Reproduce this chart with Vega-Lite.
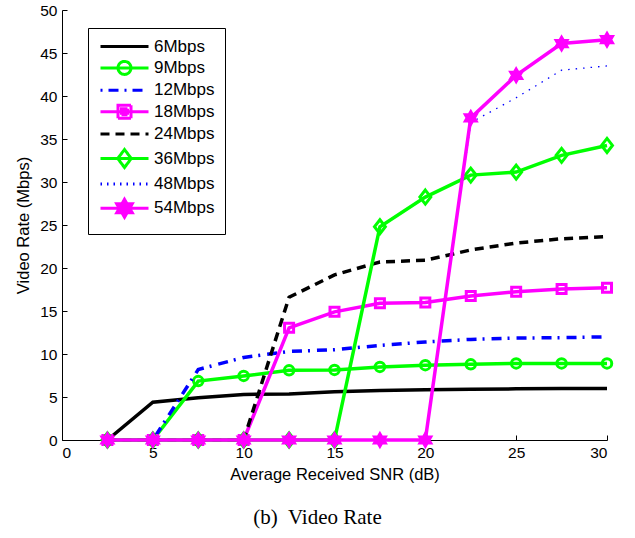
{
  "$schema": "https://vega.github.io/schema/vega-lite/v6.json",
  "width": 545,
  "height": 430,
  "autosize": {"type": "none"},
  "padding": {"left": 62, "top": 10, "right": 28, "bottom": 98},
  "background": "white",
  "title": {"text": "(b)\u00a0 Video Rate", "orient": "bottom", "anchor": "middle", "font": "Liberation Serif", "fontSize": 21, "fontWeight": "normal", "color": "black", "dx": -17, "offset": 24},
  "config": {
    "view": {"stroke": null},
    "axis": {"domainColor": "black", "tickColor": "black", "labelColor": "black", "titleColor": "black", "labelFont": "Liberation Sans", "titleFont": "Liberation Sans", "labelFontSize": 15.5, "titleFontSize": 16.5, "titleFontWeight": "normal", "tickSize": -5, "grid": false, "domainWidth": 1, "tickWidth": 1, "labelPadding": 10},
    "legend": {"orient": "none", "legendX": 26, "legendY": 18, "padding": 10, "strokeColor": "black", "fillColor": "white", "strokeWidth": 1, "labelFont": "Liberation Sans", "labelFontSize": 17, "labelColor": "black", "symbolSize": 100, "labelOffset": 39, "rowPadding": 0.4, "symbolStrokeWidth": 3}
  },
  "datasets": {
    "main": [
      {"snr": 2.5, "rate": 0, "series": "6Mbps"}, {"snr": 5, "rate": 4.4, "series": "6Mbps"}, {"snr": 7.5, "rate": 4.9, "series": "6Mbps"}, {"snr": 10, "rate": 5.3, "series": "6Mbps"}, {"snr": 12.5, "rate": 5.35, "series": "6Mbps"}, {"snr": 15, "rate": 5.6, "series": "6Mbps"}, {"snr": 17.5, "rate": 5.75, "series": "6Mbps"}, {"snr": 20, "rate": 5.85, "series": "6Mbps"}, {"snr": 22.5, "rate": 5.9, "series": "6Mbps"}, {"snr": 25, "rate": 5.95, "series": "6Mbps"}, {"snr": 27.5, "rate": 6.0, "series": "6Mbps"}, {"snr": 30, "rate": 6.0, "series": "6Mbps"},
      {"snr": 2.5, "rate": 0, "series": "9Mbps"}, {"snr": 5, "rate": 0, "series": "9Mbps"}, {"snr": 7.5, "rate": 6.85, "series": "9Mbps"}, {"snr": 10, "rate": 7.45, "series": "9Mbps"}, {"snr": 12.5, "rate": 8.1, "series": "9Mbps"}, {"snr": 15, "rate": 8.15, "series": "9Mbps"}, {"snr": 17.5, "rate": 8.5, "series": "9Mbps"}, {"snr": 20, "rate": 8.7, "series": "9Mbps"}, {"snr": 22.5, "rate": 8.8, "series": "9Mbps"}, {"snr": 25, "rate": 8.9, "series": "9Mbps"}, {"snr": 27.5, "rate": 8.9, "series": "9Mbps"}, {"snr": 30, "rate": 8.9, "series": "9Mbps"},
      {"snr": 2.5, "rate": 0, "series": "12Mbps"}, {"snr": 5, "rate": 0, "series": "12Mbps"}, {"snr": 7.5, "rate": 8.2, "series": "12Mbps"}, {"snr": 10, "rate": 9.6, "series": "12Mbps"}, {"snr": 12.5, "rate": 10.3, "series": "12Mbps"}, {"snr": 15, "rate": 10.5, "series": "12Mbps"}, {"snr": 17.5, "rate": 11.0, "series": "12Mbps"}, {"snr": 20, "rate": 11.4, "series": "12Mbps"}, {"snr": 22.5, "rate": 11.7, "series": "12Mbps"}, {"snr": 25, "rate": 11.85, "series": "12Mbps"}, {"snr": 27.5, "rate": 11.9, "series": "12Mbps"}, {"snr": 30, "rate": 12.0, "series": "12Mbps"},
      {"snr": 2.5, "rate": 0, "series": "18Mbps"}, {"snr": 5, "rate": 0, "series": "18Mbps"}, {"snr": 7.5, "rate": 0, "series": "18Mbps"}, {"snr": 10, "rate": 0, "series": "18Mbps"}, {"snr": 12.5, "rate": 13.05, "series": "18Mbps"}, {"snr": 15, "rate": 14.9, "series": "18Mbps"}, {"snr": 17.5, "rate": 15.9, "series": "18Mbps"}, {"snr": 20, "rate": 16.0, "series": "18Mbps"}, {"snr": 22.5, "rate": 16.75, "series": "18Mbps"}, {"snr": 25, "rate": 17.25, "series": "18Mbps"}, {"snr": 27.5, "rate": 17.55, "series": "18Mbps"}, {"snr": 30, "rate": 17.7, "series": "18Mbps"},
      {"snr": 2.5, "rate": 0, "series": "24Mbps"}, {"snr": 5, "rate": 0, "series": "24Mbps"}, {"snr": 7.5, "rate": 0, "series": "24Mbps"}, {"snr": 10, "rate": 0, "series": "24Mbps"}, {"snr": 12.5, "rate": 16.6, "series": "24Mbps"}, {"snr": 15, "rate": 19.2, "series": "24Mbps"}, {"snr": 17.5, "rate": 20.7, "series": "24Mbps"}, {"snr": 20, "rate": 20.9, "series": "24Mbps"}, {"snr": 22.5, "rate": 22.1, "series": "24Mbps"}, {"snr": 25, "rate": 22.9, "series": "24Mbps"}, {"snr": 27.5, "rate": 23.4, "series": "24Mbps"}, {"snr": 30, "rate": 23.65, "series": "24Mbps"},
      {"snr": 2.5, "rate": 0, "series": "36Mbps"}, {"snr": 5, "rate": 0, "series": "36Mbps"}, {"snr": 7.5, "rate": 0, "series": "36Mbps"}, {"snr": 10, "rate": 0, "series": "36Mbps"}, {"snr": 12.5, "rate": 0, "series": "36Mbps"}, {"snr": 15, "rate": 0, "series": "36Mbps"}, {"snr": 17.5, "rate": 24.8, "series": "36Mbps"}, {"snr": 20, "rate": 28.25, "series": "36Mbps"}, {"snr": 22.5, "rate": 30.8, "series": "36Mbps"}, {"snr": 25, "rate": 31.15, "series": "36Mbps"}, {"snr": 27.5, "rate": 33.1, "series": "36Mbps"}, {"snr": 30, "rate": 34.25, "series": "36Mbps"},
      {"snr": 2.5, "rate": 0, "series": "48Mbps"}, {"snr": 5, "rate": 0, "series": "48Mbps"}, {"snr": 7.5, "rate": 0, "series": "48Mbps"}, {"snr": 10, "rate": 0, "series": "48Mbps"}, {"snr": 12.5, "rate": 0, "series": "48Mbps"}, {"snr": 15, "rate": 0, "series": "48Mbps"}, {"snr": 17.5, "rate": 0, "series": "48Mbps"}, {"snr": 20, "rate": 0, "series": "48Mbps"}, {"snr": 22.5, "rate": 36.9, "series": "48Mbps"}, {"snr": 25, "rate": 39.8, "series": "48Mbps"}, {"snr": 27.5, "rate": 43.0, "series": "48Mbps"}, {"snr": 30, "rate": 43.5, "series": "48Mbps"},
      {"snr": 2.5, "rate": 0, "series": "54Mbps"}, {"snr": 5, "rate": 0, "series": "54Mbps"}, {"snr": 7.5, "rate": 0, "series": "54Mbps"}, {"snr": 10, "rate": 0, "series": "54Mbps"}, {"snr": 12.5, "rate": 0, "series": "54Mbps"}, {"snr": 15, "rate": 0, "series": "54Mbps"}, {"snr": 17.5, "rate": 0, "series": "54Mbps"}, {"snr": 20, "rate": 0, "series": "54Mbps"}, {"snr": 22.5, "rate": 37.45, "series": "54Mbps"}, {"snr": 25, "rate": 42.4, "series": "54Mbps"}, {"snr": 27.5, "rate": 46.1, "series": "54Mbps"}, {"snr": 30, "rate": 46.55, "series": "54Mbps"}
    ],
    "legendRows": [
      {"series": "6Mbps"}, {"series": "9Mbps"}, {"series": "12Mbps"}, {"series": "18Mbps"}, {"series": "24Mbps"}, {"series": "36Mbps"}, {"series": "48Mbps"}, {"series": "54Mbps"}
    ]
  },
  "data": {"name": "main"},
  "encoding": {
    "x": {"field": "snr", "type": "quantitative", "scale": {"domain": [0, 30], "nice": false}, "axis": {"values": [0, 5, 10, 15, 20, 25, 30], "title": "Average Received SNR (dB)", "titlePadding": 6}},
    "y": {"field": "rate", "type": "quantitative", "scale": {"domain": [0, 50], "nice": false}, "axis": {"values": [0, 5, 10, 15, 20, 25, 30, 35, 40, 45, 50], "title": "Video Rate (Mbps)", "titlePadding": 8}}
  },
  "layer": [
    {
      "transform": [{"filter": {"field": "series", "equal": "6Mbps"}}],
      "mark": {"type": "line", "strokeWidth": 3.5, "color": "#000000"}
    },
    {
      "transform": [{"filter": {"field": "series", "equal": "9Mbps"}}],
      "mark": {"type": "line", "strokeWidth": 3.5, "color": "#00ff00"}
    },
    {
      "transform": [{"filter": {"field": "series", "equal": "9Mbps"}}],
      "mark": {"type": "point", "shape": "circle", "size": 90, "filled": false, "strokeWidth": 3, "color": "#00ff00", "opacity": 1}
    },
    {
      "transform": [{"filter": {"field": "series", "equal": "12Mbps"}}],
      "mark": {"type": "line", "strokeWidth": 3.5, "color": "#0000ff", "strokeDash": [10, 6, 2, 7]}
    },
    {
      "transform": [{"filter": {"field": "series", "equal": "18Mbps"}}],
      "mark": {"type": "line", "strokeWidth": 3.5, "color": "#ff00ff"}
    },
    {
      "transform": [{"filter": {"field": "series", "equal": "18Mbps"}}],
      "mark": {"type": "point", "shape": "square", "size": 81, "filled": false, "strokeWidth": 3, "color": "#ff00ff", "opacity": 1}
    },
    {
      "transform": [{"filter": {"field": "series", "equal": "24Mbps"}}],
      "mark": {"type": "line", "strokeWidth": 3.5, "color": "#000000", "strokeDash": [9, 6]}
    },
    {
      "transform": [{"filter": {"field": "series", "equal": "36Mbps"}}],
      "mark": {"type": "line", "strokeWidth": 3.5, "color": "#00ff00"}
    },
    {
      "transform": [{"filter": {"field": "series", "equal": "36Mbps"}}],
      "mark": {"type": "point", "shape": "M0,-1L0.78,0L0,1L-0.78,0Z", "size": 196, "filled": false, "strokeWidth": 3, "color": "#00ff00", "opacity": 1}
    },
    {
      "transform": [{"filter": {"field": "series", "equal": "48Mbps"}}],
      "mark": {"type": "line", "strokeWidth": 1.3, "color": "#0000ff", "strokeDash": [1.5, 6]}
    },
    {
      "transform": [{"filter": {"field": "series", "equal": "54Mbps"}}],
      "mark": {"type": "line", "strokeWidth": 3.5, "color": "#ff00ff"}
    },
    {
      "transform": [{"filter": {"field": "series", "equal": "54Mbps"}}],
      "mark": {"type": "point", "shape": "M0,-1L0.289,-0.5L0.866,-0.5L0.577,0L0.866,0.5L0.289,0.5L0,1L-0.289,0.5L-0.866,0.5L-0.577,0L-0.866,-0.5L-0.289,-0.5Z", "size": 240, "filled": true, "stroke": "#ff00ff", "fill": "#ff00ff", "strokeWidth": 1.5, "opacity": 1}
    },
    {
      "data": {"name": "legendRows"},
      "mark": {"type": "point", "filled": false, "strokeWidth": 3, "opacity": 1},
      "encoding": {
        "color": {"field": "series", "type": "nominal", "scale": {"domain": ["6Mbps", "9Mbps", "12Mbps", "18Mbps", "24Mbps", "36Mbps", "48Mbps", "54Mbps"], "range": ["#000000", "#00ff00", "#0000ff", "#ff00ff", "#000000", "#00ff00", "#0000ff", "#ff00ff"]}, "legend": {"title": null, "encode": {"symbols": {"update": {"strokeWidth": {"signal": "datum.value === '48Mbps' ? 1.3 : 3"}}}}}},
        "strokeDash": {"field": "series", "type": "nominal", "scale": {"domain": ["6Mbps", "9Mbps", "12Mbps", "18Mbps", "24Mbps", "36Mbps", "48Mbps", "54Mbps"], "range": [[1, 0], [1, 0], [2, 6, 10, 6], [1, 0], [9, 6], [1, 0], [1.5, 5], [1, 0]]}, "legend": {"title": null}},
        "shape": {"field": "series", "type": "nominal", "legend": {"title": null}, "scale": {"domain": ["6Mbps", "9Mbps", "12Mbps", "18Mbps", "24Mbps", "36Mbps", "48Mbps", "54Mbps"], "range": [
          "M-1.2,0H8.4",
          "M-1.2,0H8.4M4.9,0A1.3,1.3 0 1 1 2.3,0A1.3,1.3 0 1 1 4.9,0Z",
          "M-1.2,0H8.4",
          "M-1.2,0H8.4M2.3,-1.3H4.9V1.3H2.3ZM3,-0.6H4.2V0.6H3Z",
          "M-1.2,0H8.4",
          "M-1.2,0H8.4M3.6,-1.8L4.95,0L3.6,1.8L2.25,0Z",
          "M-1.2,0H8.4",
          "M-1.2,0H8.4M3.6,-1.8L4.12,-0.9L5.159,-0.9L4.639,0L5.159,0.9L4.12,0.9L3.6,1.8L3.08,0.9L2.041,0.9L2.561,0L2.041,-0.9L3.08,-0.9ZM3.6,-0.9L3.86,-0.45L4.379,-0.45L4.12,0L4.379,0.45L3.86,0.45L3.6,0.9L3.34,0.45L2.821,0.45L3.08,0L2.821,-0.45L3.34,-0.45Z"
        ]}}
      }
    }
  ]
}
